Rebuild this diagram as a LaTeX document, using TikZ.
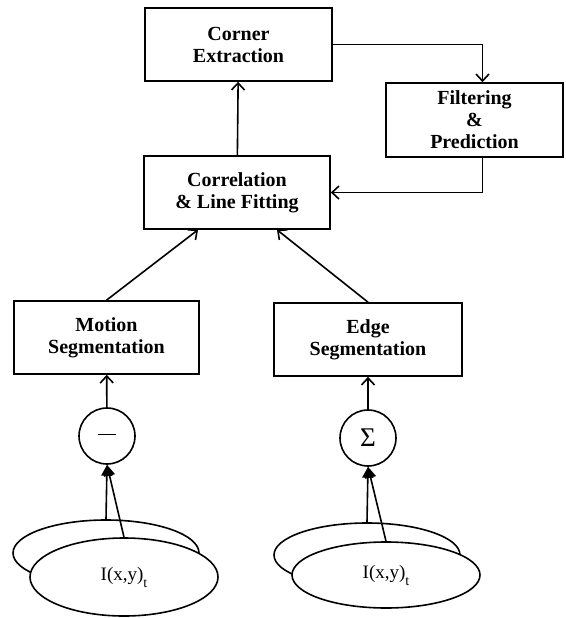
\documentclass[tikz,border=0pt]{standalone}
\usepackage{fontspec}
\setmainfont{Liberation Serif}
\usetikzlibrary{arrows.meta,shapes.geometric}

\tikzset{
  block/.style={draw,line width=1.6pt,fill=white,align=center,inner sep=2pt,
    font=\bfseries\fontsize{20}{22}\selectfont},
  op/.style={draw,circle,line width=1.6pt,minimum size=56pt,inner sep=0pt},
  img/.style={draw,ellipse,line width=1.6pt,fill=white,inner sep=0pt,
    font=\fontsize{19}{22}\selectfont},
  flow/.style={-{Straight Barb[length=7pt,width=13pt,line width=1.6pt]},line width=1.6pt},
  feed/.style={-{Triangle[length=11pt,width=11pt]},line width=1.6pt},
}
\newcommand{\imgsub}[1]{\raisebox{-7pt}{\fontsize{14}{14}\selectfont #1}}

\begin{document}
\begin{tikzpicture}[x=1pt,y=-1pt]
        \useasboundingbox (0,0) rectangle (565,618);

        % Top blocks
        \node[block,minimum width=187pt,minimum height=73pt] (corner) at (238.5,44.5) {Corner\\Extraction};
        \node[block,minimum width=177pt,minimum height=74pt] (filter) at (474.5,120) {Filtering\\\&\\Prediction};
        \node[block,minimum width=186pt,minimum height=73pt] (corr) at (237,192.5) {Correlation\\\& Line Fitting};

        % Segmentation blocks
        \node[block,minimum width=185pt,minimum height=73pt] (motion) at (106.5,337.5) {Motion\\Segmentation};
        \node[block,minimum width=188pt,minimum height=73pt] (edge) at (368,339.5) {Edge\\Segmentation};

        % Operators
        \node[op] (minus) at (107,436) {\rule[0.5ex]{18pt}{1pt}};
        \node[op] (sigma) at (368,438) {\fontsize{27}{27}\selectfont Σ};

        % Image pairs
        \node[img,minimum width=186pt,minimum height=66pt] (imgAold) at (106,553) {};
        \node[img,minimum width=188pt,minimum height=78pt] (imgAnew) at (124,577) {I(x,y)\imgsub{t}};
        \node[img,minimum width=186pt,minimum height=64pt] (imgBold) at (367,555) {};
        \node[img,minimum width=188pt,minimum height=66pt] (imgBnew) at (386,575) {I(x,y)\imgsub{t}};

        % Flow
        \draw[flow] (corr) -- (corner);
        \draw[flow] (corner.east) -| ([xshift=8pt]filter.north);
        \draw[flow] ([xshift=8pt]filter.south) |- (corr.east);
        \draw[flow] (motion.north) -- ([xshift=-39pt]corr.south);
        \draw[flow] (edge.north) -- ([xshift=40pt]corr.south);
        \draw[flow] (minus) -- (motion);
        \draw[flow] (sigma) -- (edge);

        % Image inputs
        \draw[feed] (imgAold.north) -- (minus.south);
        \draw[feed] (imgAnew.north) -- (minus.south);
        \draw[feed] (imgBold.north) -- (sigma.south);
        \draw[feed] (imgBnew.north) -- (sigma.south);
      \end{tikzpicture}
\end{document}
